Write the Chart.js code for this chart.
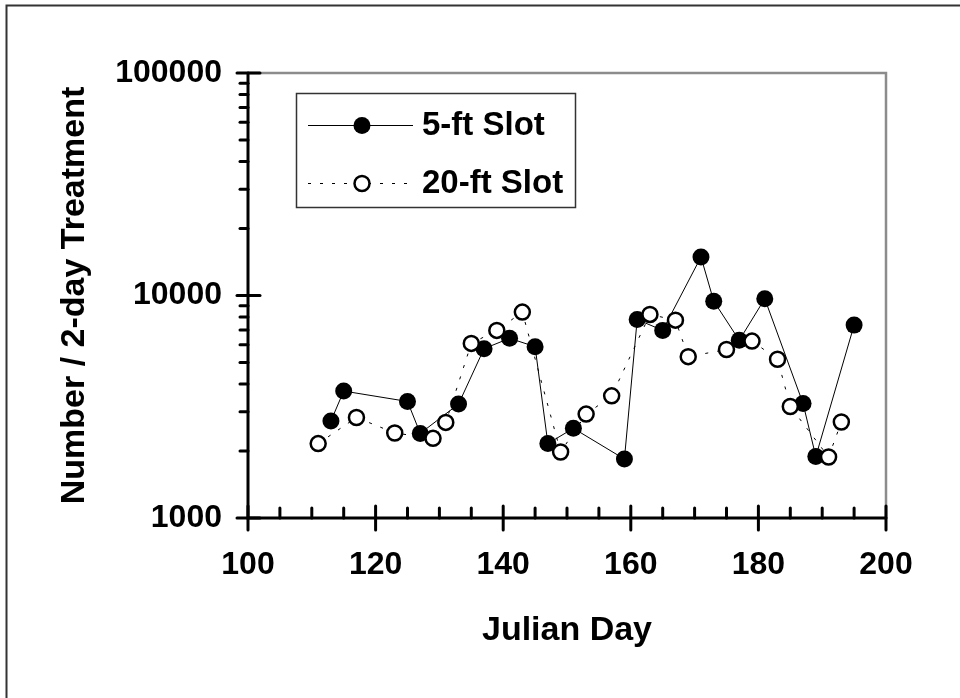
<!DOCTYPE html>
<html>
<head>
<meta charset="utf-8">
<title>Julian Day chart</title>
<script src="https://cdn.jsdelivr.net/npm/chart.js@4/dist/chart.umd.min.js"></script>
<style>
  body { margin: 0; background: #fff; }
  canvas { display: block; }
</style>
</head>
<body>
<canvas id="myChart" width="960" height="698"></canvas>
<script>
// data
var days5 = [113, 115, 125, 127, 133, 137, 141, 145, 147, 151, 159, 161, 165, 171, 173, 177, 181, 187, 189, 195];
var vals5 = [2730, 3720, 3340, 2400, 3250, 5770, 6420, 5890, 2160, 2530, 1840, 7800, 6970, 14900, 9430, 6290, 9670, 3270, 1890, 7360];
var days20 = [111, 117, 123, 129, 131, 135, 139, 143, 149, 153, 157, 163, 167, 169, 175, 179, 183, 185, 191, 193];
var vals20 = [2160, 2830, 2410, 2280, 2690, 6090, 6970, 8420, 1980, 2930, 3540, 8220, 7750, 5310, 5720, 6240, 5170, 3170, 1880, 2700];
var xTicks = [100, 120, 140, 160, 180, 200];
var yTicks = [1000, 10000, 100000];
var seriesNames = ["5-ft Slot", "20-ft Slot"];

function toPoints(xs, ys) {
    var pts = [];
    for (var i = 0; i < xs.length; i++) {
        pts.push({x: xs[i], y: ys[i]});
    }
    return pts;
}

var fontFamily = "'Liberation Sans', Arial, sans-serif";
Chart.defaults.font.family = fontFamily;
Chart.defaults.color = "#000";

// frame, axes with inside/outside tick marks, and the boxed legend
var framePlugin = {
    id: "frame",
    beforeDatasetsDraw: function(chart) {
        var ctx = chart.ctx;
        var xs = chart.scales.x;
        var ys = chart.scales.y;
        var left = xs.getPixelForValue(100);
        var right = xs.getPixelForValue(200);
        var top = ys.getPixelForValue(100000);
        var bottom = ys.getPixelForValue(1000);
        ctx.save();
        // outer border (only left and top visible)
        ctx.strokeStyle = "#333";
        ctx.lineWidth = 2;
        ctx.beginPath();
        ctx.moveTo(6.5, 698);
        ctx.lineTo(6.5, 5.5);
        ctx.lineTo(960, 5.5);
        ctx.stroke();
        // grey plot frame
        ctx.strokeStyle = "#8c8c8c";
        ctx.lineWidth = 2.5;
        ctx.beginPath();
        ctx.moveTo(left, top);
        ctx.lineTo(right, top);
        ctx.lineTo(right, bottom);
        ctx.stroke();
        // black axes
        ctx.strokeStyle = "#000";
        ctx.lineWidth = 3;
        ctx.lineCap = "round";
        ctx.beginPath();
        ctx.moveTo(left, top);
        ctx.lineTo(left, bottom);
        ctx.lineTo(right, bottom);
        ctx.stroke();
        // x ticks
        for (var d = 100; d <= 200; d += 5) {
            var px = xs.getPixelForValue(d);
            ctx.beginPath();
            if (d % 20 === 0) {
                ctx.moveTo(px, bottom - 12);
                ctx.lineTo(px, bottom + 12);
            } else {
                ctx.moveTo(px, bottom - 10);
                ctx.lineTo(px, bottom);
            }
            ctx.stroke();
        }
        // y ticks
        for (var dec = 1000; dec <= 100000; dec *= 10) {
            var py = ys.getPixelForValue(dec);
            ctx.beginPath();
            ctx.moveTo(left - 11, py);
            ctx.lineTo(left + 12, py);
            ctx.stroke();
            if (dec < 100000) {
                for (var m = 2; m <= 9; m++) {
                    var my = ys.getPixelForValue(dec * m);
                    ctx.beginPath();
                    ctx.moveTo(left - 8, my);
                    ctx.lineTo(left, my);
                    ctx.stroke();
                }
            }
        }
        ctx.restore();
    },
    afterDatasetsDraw: function(chart) {
        var ctx = chart.ctx;
        ctx.save();
        ctx.fillStyle = "#fff";
        ctx.fillRect(296, 93, 279, 114);
        ctx.strokeStyle = "#333";
        ctx.lineWidth = 1.5;
        ctx.strokeRect(296.5, 93.5, 279, 114);
        // row 1
        ctx.strokeStyle = "#000";
        ctx.lineWidth = 1;
        ctx.beginPath();
        ctx.moveTo(308, 125.5);
        ctx.lineTo(413, 125.5);
        ctx.stroke();
        ctx.fillStyle = "#000";
        ctx.beginPath();
        ctx.arc(362, 125.5, 8.5, 0, Math.PI * 2);
        ctx.fill();
        // row 2
        ctx.setLineDash([3, 9]);
        ctx.beginPath();
        ctx.moveTo(308, 183.5);
        ctx.lineTo(413, 183.5);
        ctx.stroke();
        ctx.setLineDash([]);
        ctx.fillStyle = "#fff";
        ctx.lineWidth = 2.5;
        ctx.beginPath();
        ctx.arc(362, 183.5, 7.5, 0, Math.PI * 2);
        ctx.fill();
        ctx.stroke();
        // labels
        ctx.fillStyle = "#000";
        ctx.font = "bold 33px " + fontFamily;
        ctx.textAlign = "left";
        ctx.textBaseline = "middle";
        ctx.fillText(seriesNames[0], 422, 126);
        ctx.fillText(seriesNames[1], 422, 184);
        ctx.restore();
    }
};

var ctx = document.getElementById("myChart").getContext("2d");
var chart = new Chart(ctx, {
    type: "line",
    data: {
        datasets: [{
            label: seriesNames[0],
            data: toPoints(days5, vals5),
            order: 1,
            borderColor: "#000",
            borderWidth: 1,
            pointRadius: 8.5,
            pointBackgroundColor: "#000",
            pointBorderColor: "#000",
            pointBorderWidth: 0,
            tension: 0
        }, {
            label: seriesNames[1],
            data: toPoints(days20, vals20),
            order: 0,
            borderColor: "#000",
            borderWidth: 1,
            borderDash: [3, 9],
            pointRadius: 7.5,
            pointBackgroundColor: "#fff",
            pointBorderColor: "#000",
            pointBorderWidth: 2.5,
            tension: 0
        }]
    },
    options: {
        responsive: false,
        animation: false,
        layout: { padding: { left: 0, top: 73, right: 74, bottom: 0 } },
        plugins: {
            legend: { display: false },
            tooltip: { enabled: false }
        },
        scales: {
            x: {
                type: "linear",
                min: 100,
                max: 200,
                afterBuildTicks: function(scale) {
                    scale.ticks = xTicks.map(function(v) { return {value: v}; });
                },
                afterFit: function(scale) { scale.height = 180; },
                grid: { display: false, drawTicks: false },
                border: { display: false },
                ticks: {
                    padding: 28,
                    maxRotation: 0,
                    font: { size: 32, weight: "bold" }
                },
                title: {
                    display: true,
                    text: "Julian Day",
                    font: { size: 34, weight: "bold" },
                    padding: { top: 0, bottom: 47 }
                }
            },
            y: {
                type: "logarithmic",
                min: 1000,
                max: 100000,
                afterBuildTicks: function(scale) {
                    scale.ticks = yTicks.map(function(v) { return {value: v}; });
                },
                afterFit: function(scale) { scale.width = 248; },
                grid: { display: false, drawTicks: false },
                border: { display: false },
                ticks: {
                    padding: 26,
                    font: { size: 32, weight: "bold" },
                    callback: function(value) { return String(value); }
                },
                title: {
                    display: true,
                    text: "Number / 2-day Treatment",
                    font: { size: 34, weight: "bold" },
                    padding: { top: 54, bottom: 0 }
                }
            }
        }
    },
    plugins: [framePlugin]
});
</script>
</body>
</html>
